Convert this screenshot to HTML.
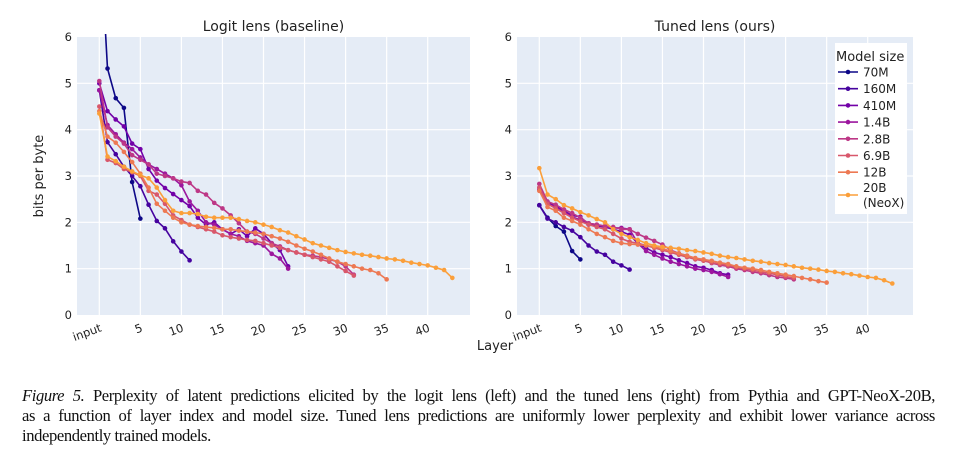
<!DOCTYPE html>
<html><head><meta charset="utf-8">
<style>
html,body{margin:0;padding:0;background:#fff;}
body{width:954px;height:453px;position:relative;overflow:hidden;}
svg text{font-family:"DejaVu Sans","Liberation Sans",sans-serif;}
.cap{position:absolute;left:22px;width:913px;font-family:"Liberation Serif",serif;font-size:16.6px;color:#111;text-align:justify;text-align-last:justify;white-space:nowrap;letter-spacing:-0.4px;}
</style></head>
<body>
<svg id="chart" width="954" height="380" style="position:absolute;left:0;top:0"></svg>
<div class="cap" style="top:386px"><i>Figure 5.</i> Perplexity of latent predictions elicited by the logit lens (left) and the tuned lens (right) from Pythia and GPT-NeoX-20B,</div>
<div class="cap" style="top:406px">as a function of layer index and model size. Tuned lens predictions are uniformly lower perplexity and exhibit lower variance across</div>
<div class="cap" style="top:426px;text-align-last:left;white-space:normal">independently trained models.</div>
<script>
const modelNames=["70M","160M","410M","1.4B","2.8B","6.9B","12B","20B"];
const modelColors=["#0d0887","#46039f","#7201a8","#9c179e","#bd3786","#d8576b","#ed7953","#fb9f3a"];
const xTicks=[0,5,10,15,20,25,30,35,40];
const xTickLabels=["input","5","10","15","20","25","30","35","40"];
const yTicks=[0,1,2,3,4,5,6];
const logit70M=[8.5,5.32,4.68,4.47,2.87,2.08];
const logit160M=[4.85,3.73,3.47,3.2,3.0,2.78,2.38,2.03,1.87,1.59,1.37,1.18];
const logit410M=[5.0,4.4,4.22,4.07,3.7,3.58,3.15,2.9,2.74,2.61,2.48,2.35,2.1,1.95,2.0,1.85,1.75,1.85,1.7,1.87,1.75,1.55,1.4,1.05];
const logit1_4B=[4.85,4.1,3.9,3.72,3.58,3.4,3.25,3.15,3.05,2.95,2.8,2.45,2.25,2.0,1.95,1.85,1.75,1.7,1.6,1.55,1.5,1.32,1.22,1.0];
const logit2_8B=[5.05,4.05,3.85,3.7,3.45,3.35,3.25,3.05,3.0,2.95,2.88,2.85,2.68,2.6,2.42,2.3,2.15,1.98,1.8,1.75,1.65,1.55,1.48,1.4,1.35,1.3,1.28,1.25,1.2,1.15,1.05,0.87];
const logit6_9B=[4.5,3.35,3.28,3.15,3.08,3.0,2.68,2.6,2.4,2.15,2.05,1.95,1.9,1.85,1.8,1.72,1.68,1.65,1.62,1.6,1.55,1.5,1.45,1.4,1.35,1.3,1.25,1.2,1.15,1.05,0.95,0.85];
const logit12B=[4.4,3.85,3.72,3.52,3.3,3.05,2.75,2.4,2.25,2.1,2.0,1.95,1.92,1.9,1.88,1.85,1.85,1.82,1.8,1.78,1.75,1.7,1.65,1.58,1.5,1.43,1.37,1.3,1.22,1.15,1.1,1.05,1.0,0.97,0.9,0.77];
const logit20B=[4.35,3.42,3.32,3.2,3.1,3.02,2.95,2.75,2.48,2.25,2.2,2.2,2.18,2.12,2.1,2.1,2.1,2.07,2.03,2.0,1.95,1.9,1.83,1.78,1.7,1.63,1.55,1.5,1.45,1.4,1.36,1.33,1.3,1.28,1.25,1.22,1.2,1.17,1.13,1.1,1.07,1.02,0.97,0.8];
const tuned70M=[2.37,2.1,1.92,1.8,1.38,1.2];
const tuned160M=[2.37,2.08,2.0,1.9,1.82,1.68,1.5,1.37,1.3,1.15,1.07,0.98];
const tuned410M=[2.7,2.42,2.35,2.25,2.15,2.12,1.95,1.92,1.9,1.85,1.8,1.73,1.55,1.45,1.35,1.3,1.25,1.18,1.12,1.05,1.02,0.97,0.9,0.87];
const tuned1_4B=[2.75,2.4,2.32,2.22,2.12,2.05,1.98,1.95,1.9,1.88,1.88,1.85,1.55,1.38,1.3,1.22,1.15,1.1,1.05,1.0,0.97,0.93,0.88,0.82];
const tuned2_8B=[2.83,2.45,2.38,2.28,2.2,2.1,1.98,1.95,1.92,1.9,1.85,1.85,1.75,1.67,1.6,1.52,1.4,1.33,1.28,1.22,1.18,1.12,1.08,1.05,1.0,0.97,0.93,0.9,0.86,0.82,0.8,0.77];
const tuned6_9B=[2.75,2.4,2.3,2.2,2.1,2.02,1.95,1.9,1.85,1.75,1.65,1.58,1.55,1.5,1.45,1.4,1.35,1.3,1.25,1.2,1.17,1.13,1.1,1.07,1.03,1.0,0.97,0.93,0.9,0.87,0.83,0.8];
const tuned12B=[2.68,2.33,2.25,2.1,2.03,1.95,1.85,1.75,1.68,1.6,1.55,1.53,1.52,1.5,1.47,1.43,1.38,1.33,1.28,1.23,1.2,1.17,1.13,1.1,1.05,1.02,1.0,0.97,0.93,0.9,0.87,0.84,0.8,0.77,0.73,0.7];
const tuned20B=[3.17,2.6,2.5,2.37,2.3,2.22,2.15,2.07,2.0,1.85,1.75,1.68,1.62,1.55,1.5,1.47,1.45,1.43,1.4,1.38,1.35,1.32,1.28,1.25,1.23,1.2,1.17,1.15,1.12,1.1,1.08,1.05,1.02,1.0,0.98,0.95,0.93,0.9,0.88,0.85,0.82,0.8,0.75,0.68];
const logitSeries=[logit70M,logit160M,logit410M,logit1_4B,logit2_8B,logit6_9B,logit12B,logit20B];
const tunedSeries=[tuned70M,tuned160M,tuned410M,tuned1_4B,tuned2_8B,tuned6_9B,tuned12B,tuned20B];

const NS="http://www.w3.org/2000/svg";
const svg=document.getElementById('chart');
function mk(tag,attrs,parent){const e=document.createElementNS(NS,tag);for(const k in attrs)e.setAttribute(k,attrs[k]);(parent||svg).appendChild(e);return e;}

function panel(key,left,right,x0,title,series){
  const top=37,bottom=315,yMax=6,pxPerLayer=(427.7-99.3)/40;
  const xs=v=>x0+v*pxPerLayer;
  const ys=v=>bottom-(v/yMax)*(bottom-top);
  const g=mk('g',{});
  
  
  const bg=mk('rect',{x:left,y:top,width:right-left,height:bottom-top,fill:'#e5ecf6'},g);
  
  
  yTicks.forEach(t=>{
    if(t>0&&t<6){const l=mk('line',{x1:left,x2:right,y1:ys(t),y2:ys(t),stroke:'#fff','stroke-width':1.2},g);
    }
    const tx=mk('text',{x:left-5,y:ys(t)+4,'font-size':11.5,'text-anchor':'end',fill:'#222'},g);
    
    tx.textContent=String(t);
  });
  xTicks.forEach((t,i)=>{
    const l=mk('line',{x1:xs(t),x2:xs(t),y1:top,y2:bottom,stroke:'#fff','stroke-width':1.2},g);
    
    const px=xs(t)+3,py=331;
    const tx=mk('text',{x:px,y:py,'font-size':11.5,'text-anchor':'end',fill:'#222',transform:`rotate(-20 ${px} ${py})`},g);
    
    tx.textContent=xTickLabels[i];
  });
  const tt=mk('text',{x:(left+right)/2,y:31,'font-size':14,'text-anchor':'middle',fill:'#222'},g);
  
  tt.textContent=title;
  const cid='clip-'+key;
  const cp=mk('clipPath',{id:cid},g);mk('rect',{x:left,y:top-3,width:right-left,height:bottom-top+6},cp);
  const sg=mk('g',{'clip-path':`url(#${cid})`},g);
  series.forEach((vals,si)=>{
    const c=modelColors[si];
    const pts=vals.map((v,i)=>xs(i).toFixed(1)+','+ys(v).toFixed(1)).join(' ');
    const pl=mk('polyline',{points:pts,fill:'none',stroke:c,'stroke-width':1.6},sg);
    
    
    vals.forEach((v,i)=>{
      const d=mk('circle',{cx:xs(i),cy:ys(v),r:2.3,fill:c},sg);
      
      
    });
  });
}
panel('logit',77,470,99.3,'Logit lens (baseline)',logitSeries);
panel('tuned',517,913,539.3,'Tuned lens (ours)',tunedSeries);

const yl=mk('text',{x:43,y:176,'font-size':13,'text-anchor':'middle',fill:'#222',transform:'rotate(-90 43 176)'});

yl.textContent='bits per byte';
const xl=mk('text',{x:495,y:350,'font-size':13,'text-anchor':'middle',fill:'#222'});

xl.textContent='Layer';

const lg=mk('g',{});

mk('rect',{x:835,y:43,width:72,height:171,fill:'#fff'},lg);
const lt=mk('text',{x:836,y:61,'font-size':13,fill:'#222'},lg);

lt.textContent='Model size';
modelNames.forEach((n,i)=>{
  const y=i<7?72+i*16.7:195;
  const e=mk('g',{},lg);
  
  
  mk('line',{x1:838,x2:858,y1:y,y2:y,stroke:modelColors[i],'stroke-width':1.6},e);
  mk('circle',{cx:848,cy:y,r:2.3,fill:modelColors[i]},e);
  const t=mk('text',{x:863,y:y+4.5,'font-size':12,fill:'#222'},e);
  t.textContent=n;
  if(n==='20B'){t.setAttribute('y',y-3);const t2=mk('text',{x:863,y:y+12,'font-size':12,fill:'#222'},e);t2.textContent='(NeoX)';}
});
</script>
</body></html>
